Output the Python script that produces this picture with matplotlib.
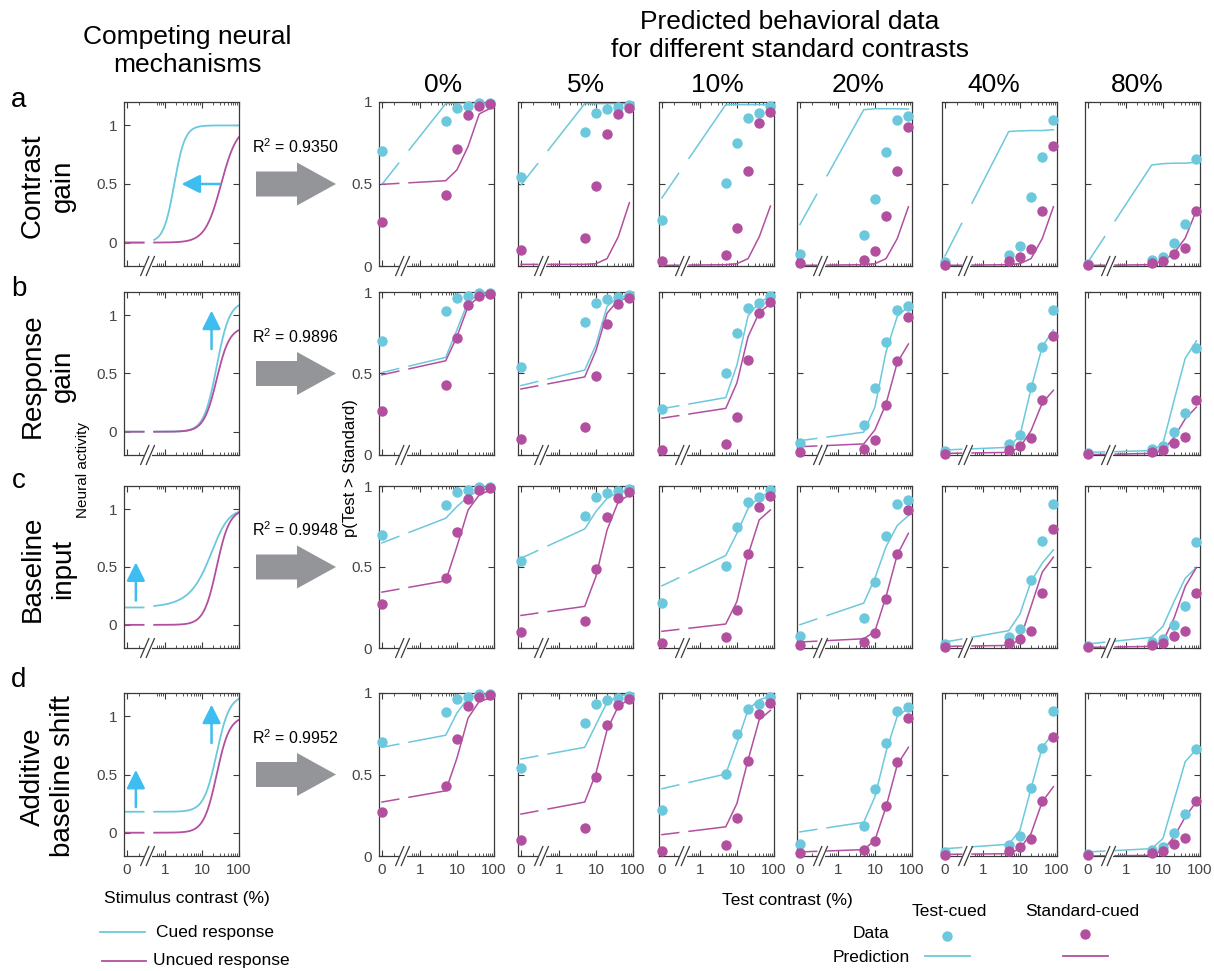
import matplotlib
matplotlib.use('Agg')
import matplotlib.pyplot as plt
from matplotlib.patches import Polygon
import numpy as np

plt.rcParams['font.family'] = ['Liberation Sans', 'DejaVu Sans']
plt.rcParams['mathtext.fontset'] = 'custom'
plt.rcParams['mathtext.rm'] = 'Liberation Sans'

# --- Data ---
test_contrasts = [0, 5, 10, 20, 40, 80]
standard_labels = ['0%', '5%', '10%', '20%', '40%', '80%']
mechanism_labels = ['Contrast\ngain', 'Response\ngain', 'Baseline\ninput', 'Additive\nbaseline shift']
panel_letters = ['a', 'b', 'c', 'd']
r_squared = ['0.9350', '0.9896', '0.9948', '0.9952']

# observed data, one list per standard contrast (same in every row)
data_test_cued = [
    [0.70, 0.885, 0.963, 0.978, 0.992, 0.995],
    [0.54, 0.815, 0.930, 0.959, 0.972, 0.980],
    [0.28, 0.506, 0.747, 0.900, 0.931, 0.973],
    [0.075, 0.186, 0.408, 0.694, 0.888, 0.916],
    [0.024, 0.067, 0.120, 0.418, 0.663, 0.890],
    [0.010, 0.039, 0.055, 0.141, 0.257, 0.655],
]
data_std_cued = [
    [0.269, 0.431, 0.715, 0.918, 0.973, 0.988],
    [0.100, 0.169, 0.486, 0.806, 0.927, 0.963],
    [0.030, 0.065, 0.233, 0.580, 0.873, 0.941],
    [0.020, 0.039, 0.094, 0.304, 0.578, 0.849],
    [0.008, 0.030, 0.053, 0.106, 0.337, 0.733],
    [0.004, 0.020, 0.033, 0.071, 0.108, 0.337],
]

# model predictions, row a (contrast gain)
pred_a_test = [
    [0.498, 0.990, 0.995, 0.995, 0.995, 0.995],
    [0.494, 0.990, 0.990, 0.990, 0.990, 0.990],
    [0.416, 0.984, 0.984, 0.984, 0.984, 0.984],
    [0.253, 0.953, 0.959, 0.959, 0.959, 0.957],
    [0.061, 0.820, 0.824, 0.826, 0.826, 0.831],
    [0.024, 0.616, 0.624, 0.627, 0.627, 0.633],
]
pred_a_std = [
    [0.498, 0.520, 0.586, 0.729, 0.927, 0.963],
    [0.010, 0.010, 0.014, 0.045, 0.178, 0.386],
    [0.004, 0.008, 0.014, 0.045, 0.178, 0.365],
    [0.004, 0.008, 0.014, 0.045, 0.167, 0.361],
    [0.004, 0.008, 0.014, 0.045, 0.167, 0.361],
    [0.004, 0.008, 0.030, 0.080, 0.170, 0.340],
]
# row b (response gain)
pred_b_test = [
    [0.506, 0.599, 0.767, 0.942, 0.984, 0.994],
    [0.426, 0.521, 0.675, 0.912, 0.969, 0.977],
    [0.284, 0.352, 0.551, 0.854, 0.936, 0.973],
    [0.088, 0.140, 0.294, 0.634, 0.850, 0.912],
    [0.031, 0.047, 0.119, 0.407, 0.665, 0.767],
    [0.016, 0.027, 0.068, 0.335, 0.593, 0.700],
]
pred_b_std = [
    [0.492, 0.578, 0.726, 0.912, 0.973, 0.984],
    [0.405, 0.479, 0.640, 0.870, 0.949, 0.963],
    [0.226, 0.286, 0.442, 0.726, 0.874, 0.928],
    [0.051, 0.068, 0.154, 0.315, 0.566, 0.681],
    [0.010, 0.016, 0.047, 0.150, 0.319, 0.397],
    [0.002, 0.010, 0.027, 0.109, 0.222, 0.294],
]
# row c (baseline input)
pred_c_test = [
    [0.649, 0.801, 0.873, 0.934, 0.975, 0.986],
    [0.554, 0.735, 0.842, 0.924, 0.961, 0.975],
    [0.384, 0.571, 0.708, 0.862, 0.934, 0.961],
    [0.144, 0.277, 0.431, 0.626, 0.756, 0.817],
    [0.037, 0.107, 0.209, 0.411, 0.524, 0.606],
    [0.025, 0.066, 0.133, 0.287, 0.431, 0.497],
]
pred_c_std = [
    [0.345, 0.415, 0.626, 0.852, 0.945, 0.975],
    [0.201, 0.257, 0.441, 0.729, 0.903, 0.945],
    [0.103, 0.148, 0.287, 0.575, 0.791, 0.852],
    [0.037, 0.057, 0.103, 0.318, 0.575, 0.708],
    [0.010, 0.016, 0.051, 0.257, 0.468, 0.561],
    [0.004, 0.010, 0.041, 0.185, 0.380, 0.497],
]
# row d (additive baseline shift)
pred_d_test = [
    [0.667, 0.741, 0.877, 0.969, 0.990, 0.995],
    [0.595, 0.667, 0.805, 0.943, 0.979, 0.994],
    [0.413, 0.503, 0.692, 0.897, 0.959, 0.979],
    [0.148, 0.207, 0.363, 0.641, 0.856, 0.908],
    [0.045, 0.072, 0.158, 0.415, 0.667, 0.754],
    [0.025, 0.045, 0.107, 0.343, 0.579, 0.655],
]
pred_d_std = [
    [0.331, 0.400, 0.600, 0.846, 0.949, 0.969],
    [0.257, 0.331, 0.507, 0.774, 0.918, 0.963],
    [0.131, 0.179, 0.322, 0.589, 0.836, 0.893],
    [0.025, 0.039, 0.097, 0.302, 0.559, 0.667],
    [0.010, 0.014, 0.045, 0.138, 0.333, 0.425],
    [0.000, 0.004, 0.035, 0.117, 0.240, 0.333],
]
pred_test = [pred_a_test, pred_b_test, pred_c_test, pred_d_test]
pred_std = [pred_a_std, pred_b_std, pred_c_std, pred_d_std]

# Naka-Rushton parameters for the illustrative neural curves (one per row)
exp_cued = [3.0, 2.5, 2.5, 2.5]
exp_uncued = [2.0, 2.5, 2.5, 2.5]
c50_cued = [1.8, 25, 25, 25]
c50_uncued = [33, 25, 25, 25]
rmax_cued = [1.0, 1.12, 1.0, 1.0]
rmax_uncued = [1.0, 0.90, 1.0, 1.0]
input_cued = [0, 0, 12.5, 0]      # baseline input added to contrast
baseline_cued = [0, 0, 0, 0.18]   # additive baseline shift

# --- Styling / layout ---
CYAN = '#6cc8dc'
MAGENTA = '#b24f9f'
ARROW_CYAN = '#3dbdf0'
GRAY = '#939598'
AX_COL = '#3a3a3a'

W, H = 1214, 971
XMIN, XMAX = -1.1, 2.0
X_ZERO = -1.02            # where contrast 0 is placed on the log axis
GAP = (-0.57, -0.29)      # axis break
BREAKS = [-0.54, -0.39]

row_top = [102, 292, 486, 693]
row_bot = [266, 455, 648, 856]
letter_y = [100, 289, 481, 680]
col_left = [379, 518, 659, 797, 942, 1085]
header_x = [443, 586, 717, 858, 994, 1137]
panel_w = 115
neural_left = 124


def px_rect(l, t, r, b):
    return [l / W, 1 - b / H, (r - l) / W, (b - t) / H]


def xpos(c):
    c = np.asarray(c, dtype=float)
    return np.where(c > 0, np.log10(np.maximum(c, 1e-9)), X_ZERO)


def gapped(x, y):
    """Insert a gap in a polyline where it crosses the axis break."""
    xs, ys = [], []
    for i in range(len(x)):
        if i > 0 and x[i - 1] < GAP[0] and x[i] > GAP[1]:
            xp, yp = [x[i - 1], x[i]], [y[i - 1], y[i]]
            xs += [GAP[0], np.nan, GAP[1]]
            ys += [np.interp(GAP[0], xp, yp), np.nan, np.interp(GAP[1], xp, yp)]
        xs.append(x[i])
        ys.append(y[i])
    return xs, ys


def style_axis(ax, ylim, show_x, show_y):
    ax.set_xlim(XMIN, XMAX)
    ax.set_ylim(*ylim)
    ax.set_xticks([X_ZERO, 0, 1, 2])
    ax.set_xticklabels(['0', '1', '10', '100'] if show_x else ['', '', '', ''])
    minor = [np.log10(k * 10.0 ** d) for d in (-1, 0, 1) for k in range(2, 10)]
    minor = [m for m in minor if not (GAP[0] - 0.03 < m < GAP[1] + 0.03)]
    ax.set_xticks(minor, minor=True)
    ax.set_yticks([0, 0.5, 1])
    ax.set_yticklabels(['0', '0.5', '1'] if show_y else ['', '', ''])
    ax.tick_params(which='both', direction='in', top=True, right=True,
                   color=AX_COL, labelcolor='#444444', labelsize=11)
    ax.tick_params(which='major', length=4, width=0.8, pad=5)
    ax.tick_params(which='minor', length=2, width=0.6)
    for s in ax.spines.values():
        s.set_color(AX_COL)
        s.set_linewidth(0.9)
    # axis break marks
    trans = ax.get_xaxis_transform()
    ax.plot(BREAKS, [0, 0], transform=trans, color='white', lw=2.2,
            clip_on=False, zorder=6)
    for bx in BREAKS:
        ax.plot([bx - 0.11, bx + 0.11], [-0.058, 0.058], transform=trans,
                color=AX_COL, lw=0.9, clip_on=False, zorder=7)


fig = plt.figure(figsize=(W / 100, H / 100), dpi=100)

# overlay axes in pixel coordinates for free text, big arrows and legends
ov = fig.add_axes([0, 0, 1, 1])
ov.set_xlim(0, W)
ov.set_ylim(H, 0)
ov.axis('off')

ov.text(187, 51, 'Competing neural\nmechanisms', ha='center', va='center',
        fontsize=19, linespacing=1.2)
ov.text(790, 36, 'Predicted behavioral data\nfor different standard contrasts',
        ha='center', va='center', fontsize=19, linespacing=1.2)
for j, lab in enumerate(standard_labels):
    ov.text(header_x[j], 85, lab, ha='center', va='center', fontsize=19)

xs_curve = np.linspace(XMIN, XMAX, 500)
c_curve = np.where(xs_curve < GAP[0], 0.0, 10 ** xs_curve)
in_gap = (xs_curve > GAP[0]) & (xs_curve < GAP[1])

for r in range(4):
    top, bot = row_top[r], row_bot[r]
    cy = (top + bot) / 2
    last = r == 3

    # row labels
    ov.text(19, letter_y[r], panel_letters[r], ha='center', va='center', fontsize=20)
    ov.text(48, cy + 2, mechanism_labels[r], rotation=90, ha='center', va='center',
            fontsize=20, linespacing=1.2, multialignment='center')

    # --- neural panel ---
    axn = fig.add_axes(px_rect(neural_left, top, neural_left + panel_w, bot))
    style_axis(axn, (-0.2, 1.2), last, True)
    cc = c_curve + input_cued[r]
    nc, nu = exp_cued[r], exp_uncued[r]
    cued = rmax_cued[r] * cc ** nc / (cc ** nc + c50_cued[r] ** nc) + baseline_cued[r]
    uncued = rmax_uncued[r] * c_curve ** nu / (c_curve ** nu + c50_uncued[r] ** nu)
    cued[in_gap] = np.nan
    uncued[in_gap] = np.nan
    axn.plot(xs_curve, cued, color=CYAN, lw=1.3)
    axn.plot(xs_curve, uncued, color=MAGENTA, lw=1.3)

    arrow_kw = dict(arrowstyle='-|>,head_length=0.8,head_width=0.4',
                    color=ARROW_CYAN, lw=1.8, mutation_scale=14,
                    shrinkA=0, shrinkB=0)
    if r == 0:
        axn.annotate('', xy=(0.45, 0.5), xytext=(1.48, 0.5), arrowprops=arrow_kw)
    if r in (1, 3):
        y0, y1 = (0.71, 1.04) if r == 1 else (0.77, 1.10)
        axn.annotate('', xy=(1.26, y1), xytext=(1.26, y0), arrowprops=arrow_kw)
    if r in (2, 3):
        y0, y1 = (0.21, 0.54) if r == 2 else (0.22, 0.54)
        axn.annotate('', xy=(-0.78, y1), xytext=(-0.78, y0), arrowprops=arrow_kw)

    # big gray arrow and R^2
    pts = [(256, cy - 12.5), (297, cy - 12.5), (297, cy - 21.5), (336, cy),
           (297, cy + 21.5), (297, cy + 12.5), (256, cy + 12.5)]
    ov.add_patch(Polygon(pts, closed=True, color=GRAY, lw=0))
    ov.text(252, cy - 37, r'R$^{\mathregular{2}}$ = ' + r_squared[r],
            ha='left', va='center', fontsize=11.5)

    # --- behavioral panels ---
    xd = xpos(test_contrasts)
    for j in range(6):
        l = col_left[j]
        ax = fig.add_axes(px_rect(l, top, l + panel_w, bot))
        style_axis(ax, (0, 1), last, j == 0)
        gx, gy = gapped(list(xd), pred_test[r][j])
        ax.plot(gx, gy, color=CYAN, lw=1.1, zorder=2)
        gx, gy = gapped(list(xd), pred_std[r][j])
        ax.plot(gx, gy, color=MAGENTA, lw=1.1, zorder=2)
        ax.plot(xd, data_test_cued[j], 'o', color=CYAN, ms=7.5, mec='none',
                clip_on=False, zorder=3)
        ax.plot(xd, data_std_cued[j], 'o', color=MAGENTA, ms=7.5, mec='none',
                clip_on=False, zorder=4)

# axis titles
ov.text(83, 470, 'Neural activity', rotation=90, ha='center', va='center',
        fontsize=11)
ov.text(350, 468, 'p(Test > Standard)', rotation=90, ha='center', va='center',
        fontsize=12)
ov.text(187, 898, 'Stimulus contrast (%)', ha='center', va='center', fontsize=12.5)
ov.text(787, 900, 'Test contrast (%)', ha='center', va='center', fontsize=12.5)

# left legend
ov.plot([100, 145], [932, 932], color=CYAN, lw=1.3)
ov.text(156, 932, 'Cued response', ha='left', va='center', fontsize=12.5)
ov.plot([102, 146], [961, 961], color=MAGENTA, lw=1.3)
ov.text(153, 961, 'Uncued response', ha='left', va='center', fontsize=12.5)

# right legend
ov.text(949, 911, 'Test-cued', ha='center', va='center', fontsize=12.5)
ov.text(1082, 911, 'Standard-cued', ha='center', va='center', fontsize=12.5)
ov.text(871, 934, 'Data', ha='center', va='center', fontsize=12.5)
ov.text(871, 957, 'Prediction', ha='center', va='center', fontsize=12.5)
ov.plot([947], [936], 'o', color=CYAN, ms=7.5, mec='none')
ov.plot([1085], [934], 'o', color=MAGENTA, ms=7.5, mec='none')
ov.plot([925, 970], [956, 956], color=CYAN, lw=1.3)
ov.plot([1063, 1108], [956, 956], color=MAGENTA, lw=1.3)

fig.savefig('out.png', dpi=100)
